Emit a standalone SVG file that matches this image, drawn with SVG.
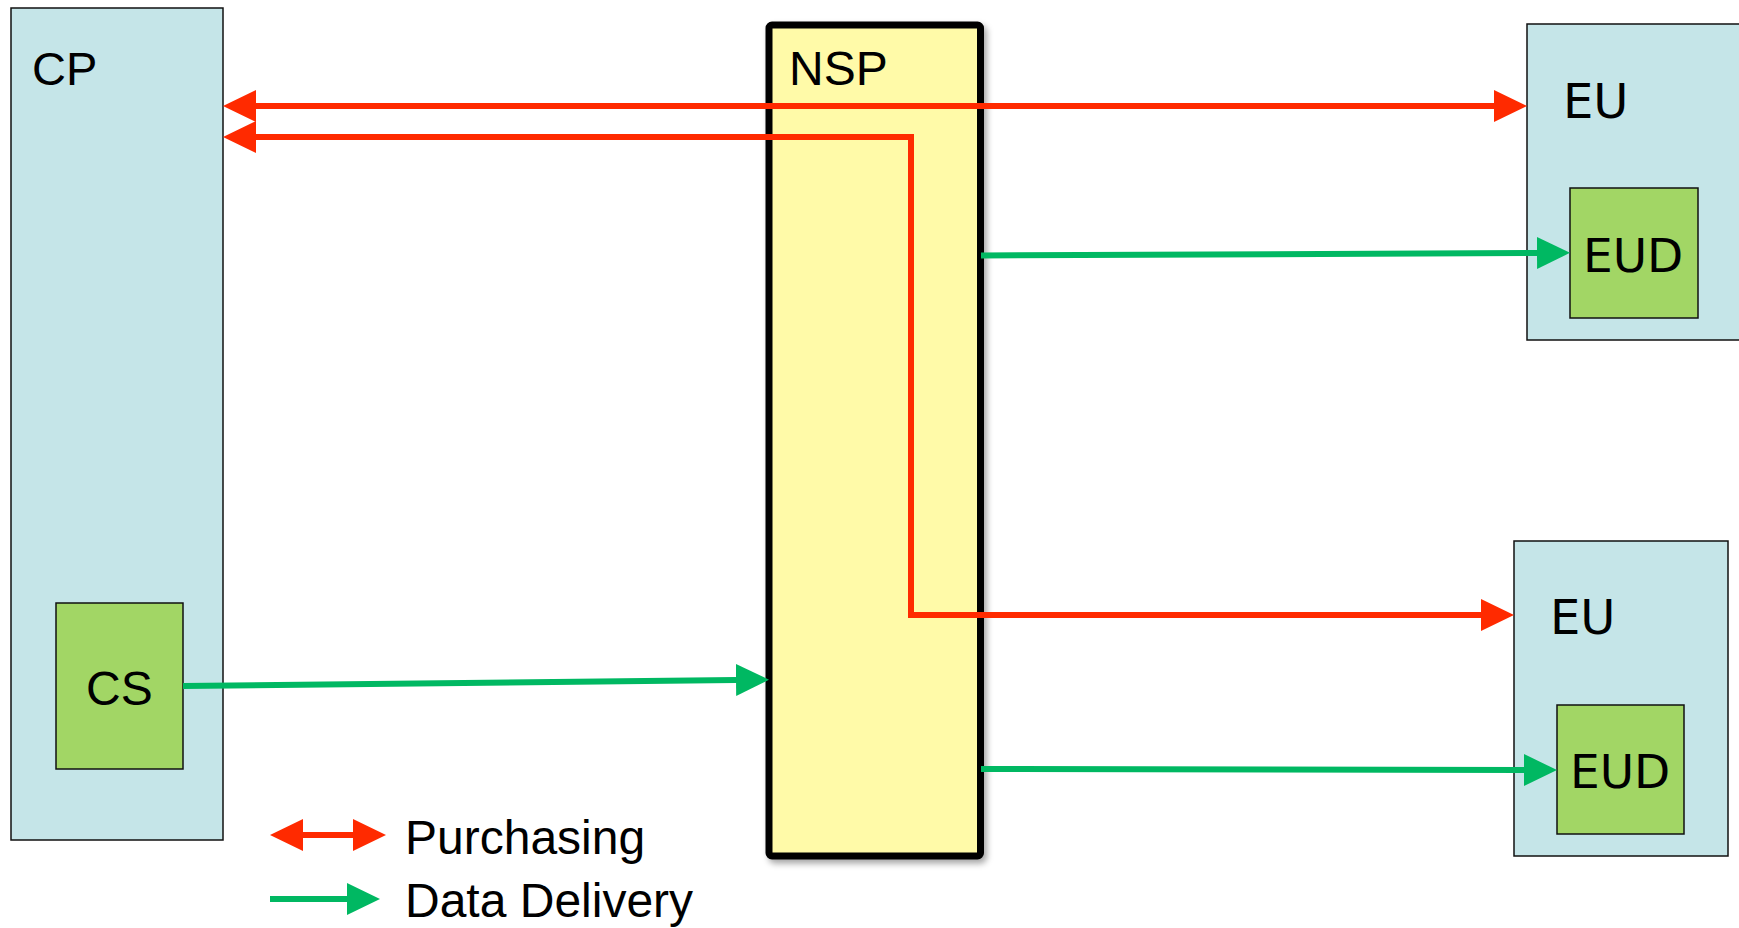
<svg xmlns="http://www.w3.org/2000/svg" width="1739" height="928" viewBox="0 0 1739 928">
  <style>
    .zone { fill: #c5e5e8; stroke: #111; stroke-width: 1.5; }
    .dev { fill: #a2d665; stroke: #111; stroke-width: 1.5; }
    .nsp { fill: #fffaa8; stroke: #000; stroke-width: 7; }
    .lbl { font-family: "Liberation Sans", Arial, sans-serif; fill: #000; }
    .lbl2 { font-family: "DejaVu Sans", Verdana, sans-serif; fill: #000; }
    .buy { fill: none; stroke: #ff2a00; stroke-width: 6; }
    .data { fill: none; stroke: #00b862; stroke-width: 6; }
  </style>
  <defs>
    <marker id="headRed" viewBox="0 0 33 32" refX="0" refY="16" markerWidth="33" markerHeight="32" markerUnits="userSpaceOnUse" orient="auto-start-reverse">
      <path d="M0,0 L33,16 L0,32 Z" fill="#ff2a00"/>
    </marker>
    <marker id="headGreen" viewBox="0 0 33 32" refX="0" refY="16" markerWidth="33" markerHeight="32" markerUnits="userSpaceOnUse" orient="auto-start-reverse">
      <path d="M0,0 L33,16 L0,32 Z" fill="#00b862"/>
    </marker>
    <filter id="shadow" x="-10%" y="-5%" width="120%" height="110%">
      <feDropShadow dx="3" dy="4" stdDeviation="3" flood-color="#000" flood-opacity="0.35"/>
    </filter>
  </defs>

  <g id="cp">
    <rect class="zone" x="11" y="8" width="212" height="832"/>
    <text class="lbl" x="32" y="85" font-size="47">CP</text>
  </g>
  <g id="cs">
    <rect class="dev" x="56" y="603" width="127" height="166"/>
    <text class="lbl" x="86" y="705" font-size="48">CS</text>
  </g>

  <g id="nsp">
    <rect class="nsp" x="769" y="25" width="211.5" height="831" rx="3" filter="url(#shadow)"/>
    <text class="lbl" x="789" y="85" font-size="48">NSP</text>
  </g>

  <g id="eu-top">
    <rect class="zone" x="1527" y="24" width="230" height="316"/>
    <text class="lbl2" x="1563" y="118" font-size="48">EU</text>
  </g>
  <g id="eud-top">
    <rect class="dev" x="1570" y="188" width="128" height="130"/>
    <text class="lbl2" x="1583" y="272" font-size="47">EUD</text>
  </g>

  <g id="eu-bottom">
    <rect class="zone" x="1514" y="541" width="214" height="315"/>
    <text class="lbl2" x="1550" y="634" font-size="48">EU</text>
  </g>
  <g id="eud-bottom">
    <rect class="dev" x="1557" y="705" width="127" height="129"/>
    <text class="lbl2" x="1570" y="788" font-size="47">EUD</text>
  </g>

  <g id="connectors">
    <path class="buy" d="M256,106 L1494,106" marker-start="url(#headRed)" marker-end="url(#headRed)"/>
    <path class="buy" d="M256,137 H911 V615 H1481" marker-start="url(#headRed)" marker-end="url(#headRed)"/>
    <path class="data" d="M183,686 L736,680" marker-end="url(#headGreen)"/>
    <path class="data" d="M981,255.5 L1537,253" marker-end="url(#headGreen)"/>
    <path class="data" d="M981,769 L1524,770" marker-end="url(#headGreen)"/>
  </g>

  <g id="legend">
    <path class="buy" d="M303,835 L353,835" marker-start="url(#headRed)" marker-end="url(#headRed)"/>
    <text class="lbl" x="405" y="854" font-size="48">Purchasing</text>
    <path class="data" d="M270,899 L347,899" marker-end="url(#headGreen)"/>
    <text class="lbl" x="405" y="917" font-size="48">Data Delivery</text>
  </g>
</svg>
